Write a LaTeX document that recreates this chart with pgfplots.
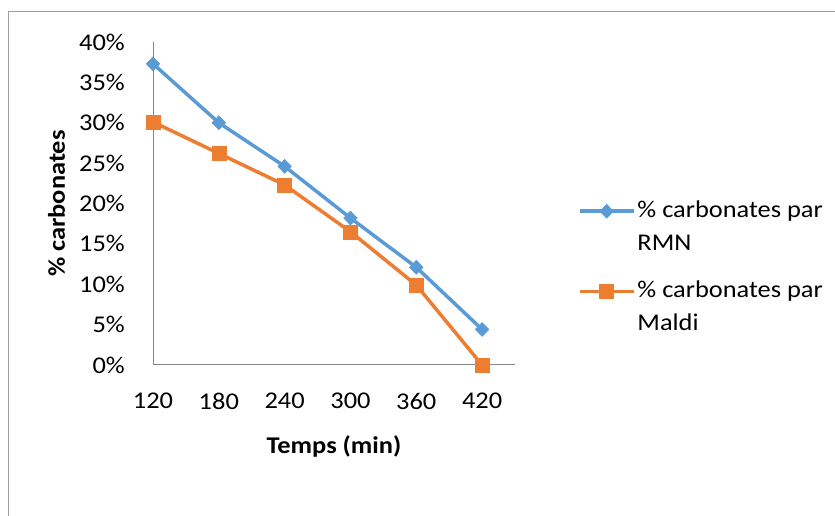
\documentclass[border=0pt]{standalone}
\usepackage{fontspec}
\setmainfont{Carlito}[FakeStretch=1.1]
\usepackage{pgfplots}
\pgfplotsset{compat=1.18}
\definecolor{cblue}{HTML}{5B9BD5}
\definecolor{corange}{HTML}{ED7D31}
\definecolor{axgray}{HTML}{868686}
\begin{document}
\fontsize{24}{33}\selectfont
\begin{tikzpicture}[x=1pt,y=1pt]
\path[use as bounding box] (0,0) rectangle (835,516);
\draw[axgray!80, line width=1pt] (8,0) -- (8,504) -- (835,504);
\begin{axis}[
  at={(153pt,151pt)}, anchor=south west,
  scale only axis, width=362pt, height=323pt,
  xmin=120, xmax=450, ymin=0, ymax=40,
  xtick={120,180,240,300,360,420},
  ytick={0,5,10,15,20,25,30,35,40},
  yticklabel={\pgfmathprintnumber{\tick}\%},
  /pgf/number format/assume math mode=true,
  axis x line=bottom, axis y line=left,
  axis line style={axgray, line width=1pt, -},
  major tick length=0pt,
  tick style={draw=none},
  xticklabel style={yshift=-20pt},
  yticklabel style={xshift=-20pt},
  font=\fontsize{24}{33}\selectfont,
  xlabel={\textbf{Temps (min)}},
  ylabel={\textbf{\% carbonates}},
  xlabel style={yshift=-10pt},
  ylabel style={yshift=-2pt},
  legend style={at={(1.165,0.522)}, anchor=north west, draw=none, fill=none,
    cells={anchor=west, align=left}, row sep=23pt,
    font=\fontsize{24}{33}\selectfont},
  legend image code/.code={
    \draw[#1, mark repeat=2, mark phase=2] plot coordinates {(0pt,16pt) (27pt,16pt) (54pt,16pt)};
  },
]
\addplot[cblue, line width=3.5pt, mark=diamond*, mark size=7pt, mark options={solid, line width=0.5pt, xscale=1.3}]
  coordinates {(120,37.3) (180,30.0) (240,24.6) (300,18.2) (360,12.1) (420,4.4)};
\addlegendentry{\% carbonates par\\RMN}
\addplot[corange, line width=3.5pt, mark=square*, mark size=7pt, mark options={solid, line width=0.5pt}]
  coordinates {(120,30.1) (180,26.2) (240,22.3) (300,16.5) (360,9.9) (420,0.0)};
\addlegendentry{\% carbonates par\\Maldi}
\end{axis}
\end{tikzpicture}
\end{document}
